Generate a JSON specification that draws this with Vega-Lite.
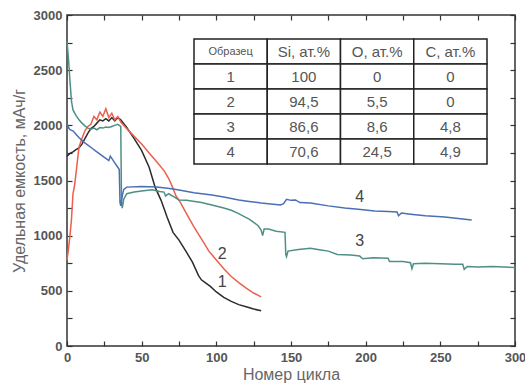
{
  "$schema": "https://vega.github.io/schema/vega-lite/v6.json",
  "width": 448,
  "height": 331,
  "autosize": {"type": "none"},
  "padding": {"left": 67, "top": 15, "right": 10, "bottom": 41},
  "background": "white",
  "config": {
    "view": {"stroke": "#333", "strokeWidth": 1.5},
    "font": "Liberation Sans",
    "axis": {
      "domain": false,
      "grid": false,
      "ticks": true,
      "tickColor": "#333",
      "tickWidth": 1.2,
      "tickSize": 5,
      "offset": -5,
      "labelFont": "Liberation Sans",
      "labelFontSize": 13,
      "labelFontWeight": "bold",
      "labelColor": "#555",
      "labelFlush": false,
      "labelOverlap": false,
      "titleFont": "Liberation Sans",
      "titleFontSize": 16,
      "titleFontWeight": "normal",
      "titleColor": "#666"
    }
  },
  "datasets": {
    "curves": [
      {"s": "1", "x": 0, "y": 1720}, {"s": "1", "x": 2, "y": 1745}, {"s": "1", "x": 4, "y": 1760}, {"s": "1", "x": 6, "y": 1780}, {"s": "1", "x": 8, "y": 1795}, {"s": "1", "x": 10, "y": 1830}, {"s": "1", "x": 12, "y": 1880}, {"s": "1", "x": 14, "y": 1930}, {"s": "1", "x": 16, "y": 1970}, {"s": "1", "x": 18, "y": 1990}, {"s": "1", "x": 20, "y": 2020}, {"s": "1", "x": 22, "y": 2050}, {"s": "1", "x": 24, "y": 2040}, {"s": "1", "x": 26, "y": 2060}, {"s": "1", "x": 28, "y": 2040}, {"s": "1", "x": 30, "y": 2070}, {"s": "1", "x": 32, "y": 2040}, {"s": "1", "x": 34, "y": 2070}, {"s": "1", "x": 36, "y": 2050}, {"s": "1", "x": 40, "y": 1980}, {"s": "1", "x": 45, "y": 1880}, {"s": "1", "x": 50, "y": 1770}, {"s": "1", "x": 55, "y": 1620}, {"s": "1", "x": 59, "y": 1440}, {"s": "1", "x": 63, "y": 1320}, {"s": "1", "x": 67, "y": 1170}, {"s": "1", "x": 71, "y": 1030}, {"s": "1", "x": 75, "y": 960}, {"s": "1", "x": 80, "y": 850}, {"s": "1", "x": 84, "y": 760}, {"s": "1", "x": 88, "y": 640}, {"s": "1", "x": 90, "y": 600}, {"s": "1", "x": 93, "y": 570}, {"s": "1", "x": 96, "y": 540}, {"s": "1", "x": 100, "y": 490}, {"s": "1", "x": 105, "y": 440}, {"s": "1", "x": 110, "y": 405}, {"s": "1", "x": 115, "y": 375}, {"s": "1", "x": 120, "y": 355}, {"s": "1", "x": 125, "y": 335}, {"s": "1", "x": 130, "y": 320},
      {"s": "2", "x": 0, "y": 780}, {"s": "2", "x": 1, "y": 880}, {"s": "2", "x": 2, "y": 1000}, {"s": "2", "x": 3, "y": 1150}, {"s": "2", "x": 4, "y": 1380}, {"s": "2", "x": 5, "y": 1450}, {"s": "2", "x": 6, "y": 1560}, {"s": "2", "x": 8, "y": 1800}, {"s": "2", "x": 10, "y": 1880}, {"s": "2", "x": 12, "y": 1950}, {"s": "2", "x": 14, "y": 1990}, {"s": "2", "x": 16, "y": 2010}, {"s": "2", "x": 18, "y": 2080}, {"s": "2", "x": 20, "y": 2050}, {"s": "2", "x": 22, "y": 2120}, {"s": "2", "x": 24, "y": 2080}, {"s": "2", "x": 26, "y": 2150}, {"s": "2", "x": 28, "y": 2070}, {"s": "2", "x": 30, "y": 2110}, {"s": "2", "x": 32, "y": 2050}, {"s": "2", "x": 34, "y": 2080}, {"s": "2", "x": 36, "y": 2030}, {"s": "2", "x": 40, "y": 1970}, {"s": "2", "x": 45, "y": 1900}, {"s": "2", "x": 50, "y": 1830}, {"s": "2", "x": 55, "y": 1750}, {"s": "2", "x": 60, "y": 1670}, {"s": "2", "x": 65, "y": 1590}, {"s": "2", "x": 68, "y": 1520}, {"s": "2", "x": 70, "y": 1460}, {"s": "2", "x": 73, "y": 1360}, {"s": "2", "x": 76, "y": 1300}, {"s": "2", "x": 80, "y": 1200}, {"s": "2", "x": 85, "y": 1080}, {"s": "2", "x": 90, "y": 970}, {"s": "2", "x": 95, "y": 860}, {"s": "2", "x": 100, "y": 780}, {"s": "2", "x": 105, "y": 700}, {"s": "2", "x": 110, "y": 630}, {"s": "2", "x": 115, "y": 575}, {"s": "2", "x": 120, "y": 525}, {"s": "2", "x": 125, "y": 480}, {"s": "2", "x": 130, "y": 445},
      {"s": "3", "x": 0, "y": 2760}, {"s": "3", "x": 1, "y": 2600}, {"s": "3", "x": 2, "y": 2400}, {"s": "3", "x": 3, "y": 2220}, {"s": "3", "x": 4, "y": 2140}, {"s": "3", "x": 6, "y": 2090}, {"s": "3", "x": 8, "y": 2050}, {"s": "3", "x": 10, "y": 2020}, {"s": "3", "x": 12, "y": 1995}, {"s": "3", "x": 14, "y": 1975}, {"s": "3", "x": 16, "y": 1965}, {"s": "3", "x": 18, "y": 1975}, {"s": "3", "x": 20, "y": 1960}, {"s": "3", "x": 22, "y": 1980}, {"s": "3", "x": 24, "y": 1975}, {"s": "3", "x": 26, "y": 1985}, {"s": "3", "x": 28, "y": 1980}, {"s": "3", "x": 30, "y": 1990}, {"s": "3", "x": 32, "y": 2000}, {"s": "3", "x": 34, "y": 2010}, {"s": "3", "x": 35, "y": 2000}, {"s": "3", "x": 36, "y": 1990}, {"s": "3", "x": 36.5, "y": 1300}, {"s": "3", "x": 37, "y": 1250}, {"s": "3", "x": 38, "y": 1330}, {"s": "3", "x": 40, "y": 1380}, {"s": "3", "x": 45, "y": 1395}, {"s": "3", "x": 50, "y": 1405}, {"s": "3", "x": 57, "y": 1415}, {"s": "3", "x": 62, "y": 1400}, {"s": "3", "x": 65, "y": 1395}, {"s": "3", "x": 66, "y": 1360}, {"s": "3", "x": 68, "y": 1380}, {"s": "3", "x": 72, "y": 1350}, {"s": "3", "x": 75, "y": 1324}, {"s": "3", "x": 80, "y": 1320}, {"s": "3", "x": 90, "y": 1300}, {"s": "3", "x": 97, "y": 1278}, {"s": "3", "x": 105, "y": 1250}, {"s": "3", "x": 110, "y": 1230}, {"s": "3", "x": 115, "y": 1200}, {"s": "3", "x": 119, "y": 1170}, {"s": "3", "x": 122, "y": 1150}, {"s": "3", "x": 125, "y": 1120}, {"s": "3", "x": 128, "y": 1090}, {"s": "3", "x": 130, "y": 1050}, {"s": "3", "x": 131, "y": 1000}, {"s": "3", "x": 132, "y": 1060}, {"s": "3", "x": 135, "y": 1060}, {"s": "3", "x": 140, "y": 1040}, {"s": "3", "x": 146, "y": 1030}, {"s": "3", "x": 146.5, "y": 830}, {"s": "3", "x": 147, "y": 810}, {"s": "3", "x": 148, "y": 860}, {"s": "3", "x": 155, "y": 875}, {"s": "3", "x": 163, "y": 885}, {"s": "3", "x": 170, "y": 870}, {"s": "3", "x": 175, "y": 860}, {"s": "3", "x": 181, "y": 830}, {"s": "3", "x": 190, "y": 825}, {"s": "3", "x": 196, "y": 815}, {"s": "3", "x": 198, "y": 790}, {"s": "3", "x": 205, "y": 800}, {"s": "3", "x": 215, "y": 795}, {"s": "3", "x": 216, "y": 765}, {"s": "3", "x": 225, "y": 765}, {"s": "3", "x": 230, "y": 755}, {"s": "3", "x": 231, "y": 700}, {"s": "3", "x": 232, "y": 745}, {"s": "3", "x": 240, "y": 750}, {"s": "3", "x": 250, "y": 745}, {"s": "3", "x": 260, "y": 740}, {"s": "3", "x": 265, "y": 740}, {"s": "3", "x": 266, "y": 695}, {"s": "3", "x": 268, "y": 720}, {"s": "3", "x": 275, "y": 715}, {"s": "3", "x": 285, "y": 720}, {"s": "3", "x": 300, "y": 712},
      {"s": "4", "x": 0, "y": 2020}, {"s": "4", "x": 1, "y": 1980}, {"s": "4", "x": 2, "y": 1960}, {"s": "4", "x": 4, "y": 1950}, {"s": "4", "x": 6, "y": 1920}, {"s": "4", "x": 8, "y": 1890}, {"s": "4", "x": 11, "y": 1850}, {"s": "4", "x": 14, "y": 1820}, {"s": "4", "x": 17, "y": 1790}, {"s": "4", "x": 20, "y": 1760}, {"s": "4", "x": 23, "y": 1730}, {"s": "4", "x": 26, "y": 1700}, {"s": "4", "x": 28, "y": 1680}, {"s": "4", "x": 29, "y": 1720}, {"s": "4", "x": 30, "y": 1700}, {"s": "4", "x": 32, "y": 1660}, {"s": "4", "x": 34, "y": 1620}, {"s": "4", "x": 35, "y": 1600}, {"s": "4", "x": 35.5, "y": 1300}, {"s": "4", "x": 36, "y": 1270}, {"s": "4", "x": 37, "y": 1360}, {"s": "4", "x": 38, "y": 1420}, {"s": "4", "x": 40, "y": 1440}, {"s": "4", "x": 50, "y": 1445}, {"s": "4", "x": 60, "y": 1440}, {"s": "4", "x": 70, "y": 1425}, {"s": "4", "x": 75, "y": 1414}, {"s": "4", "x": 85, "y": 1390}, {"s": "4", "x": 97, "y": 1369}, {"s": "4", "x": 105, "y": 1350}, {"s": "4", "x": 115, "y": 1324}, {"s": "4", "x": 122, "y": 1310}, {"s": "4", "x": 130, "y": 1296}, {"s": "4", "x": 143, "y": 1278}, {"s": "4", "x": 145, "y": 1290}, {"s": "4", "x": 147, "y": 1330}, {"s": "4", "x": 150, "y": 1320}, {"s": "4", "x": 153, "y": 1324}, {"s": "4", "x": 156, "y": 1300}, {"s": "4", "x": 163, "y": 1296}, {"s": "4", "x": 175, "y": 1270}, {"s": "4", "x": 186, "y": 1251}, {"s": "4", "x": 195, "y": 1240}, {"s": "4", "x": 206, "y": 1224}, {"s": "4", "x": 215, "y": 1220}, {"s": "4", "x": 221, "y": 1215}, {"s": "4", "x": 222, "y": 1180}, {"s": "4", "x": 224, "y": 1205}, {"s": "4", "x": 230, "y": 1195}, {"s": "4", "x": 240, "y": 1180}, {"s": "4", "x": 253, "y": 1170}, {"s": "4", "x": 262, "y": 1155}, {"s": "4", "x": 271, "y": 1142}
    ],
    "labels": [
      {"t": "4", "x": 196, "y": 1351},
      {"t": "3", "x": 196, "y": 952},
      {"t": "2", "x": 104, "y": 834},
      {"t": "1", "x": 104, "y": 580}
    ],
    "table": [
      {"r": "0", "c": "0", "t": "Образец"}, {"r": "0", "c": "1", "t": "Si, ат.%"}, {"r": "0", "c": "2", "t": "O, ат.%"}, {"r": "0", "c": "3", "t": "C, ат.%"},
      {"r": "1", "c": "0", "t": "1"}, {"r": "1", "c": "1", "t": "100"}, {"r": "1", "c": "2", "t": "0"}, {"r": "1", "c": "3", "t": "0"},
      {"r": "2", "c": "0", "t": "2"}, {"r": "2", "c": "1", "t": "94,5"}, {"r": "2", "c": "2", "t": "5,5"}, {"r": "2", "c": "3", "t": "0"},
      {"r": "3", "c": "0", "t": "3"}, {"r": "3", "c": "1", "t": "86,6"}, {"r": "3", "c": "2", "t": "8,6"}, {"r": "3", "c": "3", "t": "4,8"},
      {"r": "4", "c": "0", "t": "4"}, {"r": "4", "c": "1", "t": "70,6"}, {"r": "4", "c": "2", "t": "24,5"}, {"r": "4", "c": "3", "t": "4,9"}
    ]
  },
  "layer": [
    {
      "data": {"name": "curves"},
      "mark": {"type": "line", "strokeWidth": 1.5},
      "encoding": {
        "x": {
          "field": "x", "type": "quantitative",
          "scale": {"domain": [0, 300], "nice": false, "zero": false},
          "axis": {
            "orient": "bottom",
            "title": "Номер цикла",
            "values": [0, 25, 50, 75, 100, 125, 150, 175, 200, 225, 250, 275, 300],
            "labelExpr": "datum.value % 50 === 0 ? datum.label : ''",
            "format": "d",
            "labelPadding": 5,
            "titlePadding": 2
          }
        },
        "y": {
          "field": "y", "type": "quantitative",
          "scale": {"domain": [0, 3000], "nice": false},
          "axis": {
            "orient": "left",
            "title": "Удельная емкость, мАч/г",
            "values": [0, 250, 500, 750, 1000, 1250, 1500, 1750, 2000, 2250, 2500, 2750, 3000],
            "labelExpr": "datum.value % 500 === 0 ? datum.label : ''",
            "format": "d",
            "labelPadding": 5,
            "titlePadding": 6
          }
        },
        "color": {
          "field": "s", "type": "nominal",
          "scale": {"domain": ["1", "2", "3", "4"], "range": ["#2b2b2b", "#ec5f4e", "#4f8f85", "#4a6fb5"]},
          "legend": null
        }
      }
    },
    {
      "data": {"name": "curves"},
      "mark": {"type": "line", "opacity": 0},
      "encoding": {
        "x": {
          "field": "x", "type": "quantitative",
          "scale": {"domain": [0, 300], "nice": false, "zero": false},
          "axis": {
            "orient": "top", "title": null, "labels": false,
            "values": [0, 25, 50, 75, 100, 125, 150, 175, 200, 225, 250, 275, 300]
          }
        },
        "y": {
          "field": "y", "type": "quantitative",
          "scale": {"domain": [0, 3000], "nice": false},
          "axis": {
            "orient": "right", "title": null, "labels": false,
            "values": [0, 250, 500, 750, 1000, 1250, 1500, 1750, 2000, 2250, 2500, 2750, 3000]
          }
        },
        "detail": {"field": "s"}
      }
    },
    {
      "data": {"name": "labels"},
      "mark": {"type": "text", "fontSize": 16, "color": "#444", "font": "Liberation Sans", "align": "center", "baseline": "middle"},
      "encoding": {
        "x": {"field": "x", "type": "quantitative", "scale": {"domain": [0, 300], "nice": false, "zero": false}, "axis": null},
        "y": {"field": "y", "type": "quantitative", "scale": {"domain": [0, 3000], "nice": false}, "axis": null},
        "text": {"field": "t"}
      }
    },
    {
      "data": {"name": "table"},
      "mark": {"type": "rect", "fill": "white", "stroke": "#222", "strokeWidth": 1.5},
      "encoding": {
        "x": {"field": "c", "type": "nominal", "scale": {"domain": ["0", "1", "2", "3"], "range": [127, 420], "paddingInner": 0, "paddingOuter": 0}, "axis": null},
        "y": {"field": "r", "type": "nominal", "scale": {"domain": ["0", "1", "2", "3", "4"], "range": [24, 149], "paddingInner": 0, "paddingOuter": 0}, "axis": null}
      }
    },
    {
      "data": {"name": "table"},
      "mark": {"type": "text", "color": "#555", "font": "Liberation Sans", "align": "center", "baseline": "middle"},
      "encoding": {
        "x": {"field": "c", "type": "nominal", "scale": {"domain": ["0", "1", "2", "3"], "range": [127, 420], "paddingInner": 0, "paddingOuter": 0}, "axis": null},
        "y": {"field": "r", "type": "nominal", "scale": {"domain": ["0", "1", "2", "3", "4"], "range": [24, 149], "paddingInner": 0, "paddingOuter": 0}, "axis": null},
        "text": {"field": "t"},
        "size": {"condition": {"test": "datum.t === 'Образец'", "value": 11}, "value": 15}
      }
    }
  ],
  "resolve": {
    "scale": {"x": "independent", "y": "independent"},
    "axis": {"x": "independent", "y": "independent"}
  }
}
